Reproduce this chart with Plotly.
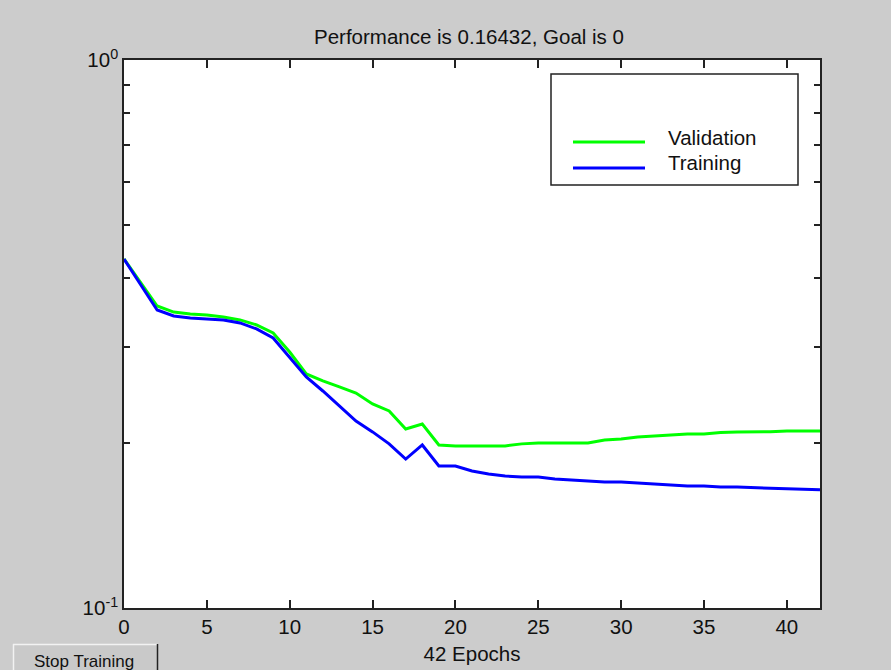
import plotly.graph_objects as go

epochs = list(range(0, 43))
training = [0.4334, 0.3903, 0.3498, 0.3411, 0.3383, 0.3369, 0.3355, 0.3313, 0.3230, 0.3110,
            0.2859, 0.2640, 0.2489, 0.2337, 0.2194, 0.2096, 0.1993, 0.1870, 0.1984, 0.1816,
            0.1816, 0.1778, 0.1756, 0.1741, 0.1734, 0.1734, 0.1720, 0.1712, 0.1705, 0.1698,
            0.1698, 0.1690, 0.1683, 0.1676, 0.1669, 0.1669, 0.1662, 0.1662, 0.1659, 0.1656,
            0.1650, 0.1646, 0.16432]
validation = [0.4334, 0.3930, 0.3557, 0.3468, 0.3440, 0.3425, 0.3396, 0.3355, 0.3285, 0.3176,
              0.2932, 0.2673, 0.2596, 0.2532, 0.2468, 0.2357, 0.2289, 0.2122, 0.2167, 0.1984,
              0.1976, 0.1976, 0.1976, 0.1976, 0.1993, 0.2001, 0.2001, 0.2001, 0.2001, 0.2026,
              0.2034, 0.2051, 0.2059, 0.2068, 0.2077, 0.2077, 0.2090, 0.2094, 0.2094, 0.2098,
              0.2103, 0.2103, 0.2103]
x_ticks = [0, 5, 10, 15, 20, 25, 30, 35, 40]
y_ticks = [0.1, 0.2, 0.3, 0.4, 0.5, 0.6, 0.7, 0.8, 0.9, 1.0]
y_ticktext = ["10<sup>-1</sup>", "", "", "", "", "", "", "", "", "10<sup>0</sup>"]
series_names = ["Validation", "Training"]
series_colors = ["#00ff00", "#0000ff"]

FONT = "Liberation Sans, Arial, sans-serif"
FS = 20.5
BG = "#cccccc"

fig = go.Figure()
fig.add_trace(go.Scatter(x=epochs, y=validation, mode="lines", name=series_names[0],
                         line=dict(color=series_colors[0], width=3)))
fig.add_trace(go.Scatter(x=epochs, y=training, mode="lines", name=series_names[1],
                         line=dict(color=series_colors[1], width=3)))

W, H = 891, 670
L, R, T, B = 124, 820, 60, 608


def px(x):
    return (x - L) / (R - L)


def py(y):
    return (B - y) / (B - T)


shapes = []
annotations = []
# legend box
shapes.append(dict(type="rect", xref="paper", yref="paper", x0=px(551), x1=px(798), y0=py(185), y1=py(74),
                   line=dict(color="#222222", width=1.5), fillcolor="white", layer="above"))
for i, (yy, ty) in enumerate([(142, 137), (168, 162)]):
    shapes.append(dict(type="line", xref="paper", yref="paper", x0=px(573), x1=px(645), y0=py(yy), y1=py(yy),
                       line=dict(color=series_colors[i], width=3), layer="above"))
    annotations.append(dict(xref="paper", yref="paper", x=px(666), y=py(ty), text=series_names[i],
                            showarrow=False, xanchor="left", yanchor="middle",
                            font=dict(family=FONT, size=FS, color="#111111")))
# Stop Training button
shapes.append(dict(type="rect", xref="paper", yref="paper", x0=px(13), x1=px(158), y0=py(675), y1=py(644),
                   line=dict(width=0), fillcolor="#c9c9c9", layer="above"))
shapes.append(dict(type="line", xref="paper", yref="paper", x0=px(13), x1=px(157), y0=py(644.5), y1=py(644.5),
                   line=dict(color="#f2f2f2", width=1.5), layer="above"))
shapes.append(dict(type="line", xref="paper", yref="paper", x0=px(13.5), x1=px(13.5), y0=py(644), y1=py(675),
                   line=dict(color="#f2f2f2", width=1.5), layer="above"))
shapes.append(dict(type="line", xref="paper", yref="paper", x0=px(157.5), x1=px(157.5), y0=py(644), y1=py(675),
                   line=dict(color="#222222", width=1.5), layer="above"))
annotations.append(dict(xref="paper", yref="paper", x=px(84), y=py(661), text="Stop Training",
                        showarrow=False, xanchor="center", yanchor="middle",
                        font=dict(family=FONT, size=17, color="#111111")))

fig.update_layout(
    width=W, height=H,
    margin=dict(l=L, r=W - R, t=T, b=H - B, pad=0, autoexpand=False),
    paper_bgcolor=BG, plot_bgcolor="white",
    showlegend=False,
    font=dict(family=FONT, size=FS, color="#111111"),
    title=dict(text="Performance is 0.16432, Goal is 0", x=(313 + 625) / 2 / W, xanchor="center",
               y=1 - 37 / H, yanchor="middle", font=dict(family=FONT, size=FS, color="#111111")),
    xaxis=dict(range=[0, 42], tickvals=x_ticks, ticks="inside", ticklen=8, tickwidth=1.5, tickcolor="#222222",
               showline=True, linecolor="#222222", linewidth=1.5, mirror="ticks", showgrid=False, zeroline=False,
               automargin=False,
               title=dict(text="42 Epochs", standoff=9, font=dict(size=FS)), tickfont=dict(size=FS)),
    yaxis=dict(type="log", range=[-1, 0], tickvals=y_ticks, ticktext=y_ticktext, ticks="inside", ticklen=6,
               tickwidth=1.5, tickcolor="#222222", showline=True, linecolor="#222222", linewidth=1.5,
               mirror="ticks", showgrid=False, zeroline=False, automargin=False, tickfont=dict(size=FS)),
    shapes=shapes, annotations=annotations,
)

fig.write_html("out.html", config={"displayModeBar": False},
               post_script="document.body.style.margin='0';document.body.style.padding='0';")
